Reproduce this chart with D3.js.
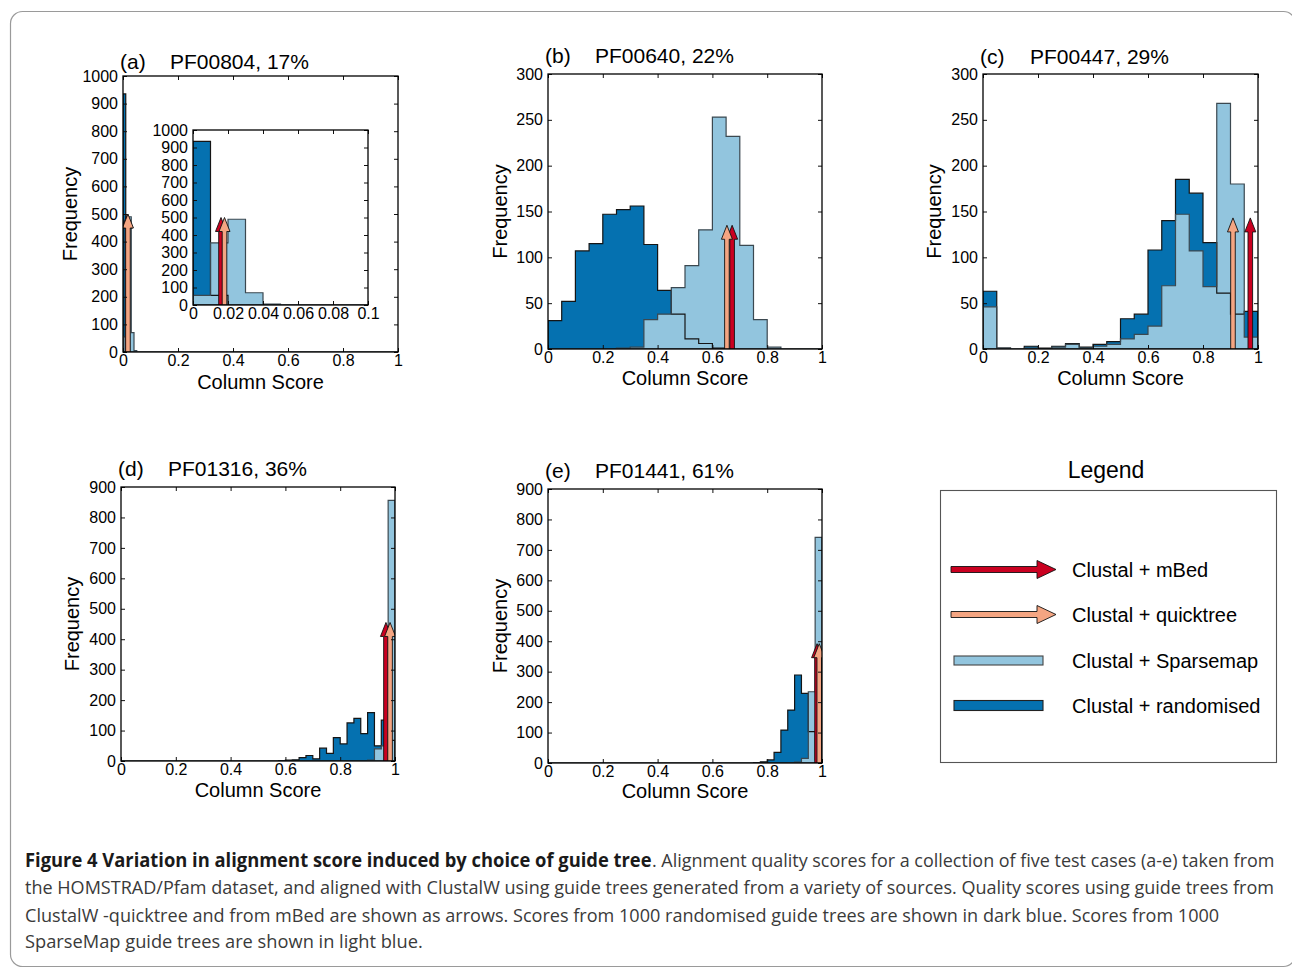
<!DOCTYPE html>
<html lang="en">
<head>
<meta charset="utf-8">
<title>Figure 4</title>
<script src="https://d3js.org/d3.v7.min.js"></script>
<style>
  body { margin: 0; background: #fff; }
  svg text { font-family: "Liberation Sans", Arial, Helvetica, sans-serif; }
  .caption text { font-family: "Open Sans", "Noto Sans", sans-serif; }
</style>
</head>
<body>
<script>
// ---------- data ----------
const panelIds = ["(a)", "(b)", "(c)", "(d)", "(e)"]
const panelNames = ["PF00804, 17%", "PF00640, 22%", "PF00447, 29%", "PF01316, 36%", "PF01441, 61%"]

const xTicks = [0, 0.2, 0.4, 0.6, 0.8, 1]
const xTickLabels = ["0", "0.2", "0.4", "0.6", "0.8", "1"]
const insetXTicks = [0, 0.02, 0.04, 0.06, 0.08, 0.1]
const insetXTickLabels = ["0", "0.02", "0.04", "0.06", "0.08", "0.1"]
const yTicks1000 = [0, 100, 200, 300, 400, 500, 600, 700, 800, 900, 1000]
const yTicks300 = [0, 50, 100, 150, 200, 250, 300]
const yTicks900 = [0, 100, 200, 300, 400, 500, 600, 700, 800, 900]

// histogram bin width per panel, first bin of each series, counts per bin
const binWidths = [0.01, 0.05, 0.05, 0.025, 0.025]
const randomStarts = [0, 0, 0, 0.575, 0.75]
const sparseStarts = [0, 0.25, 0, 0.9, 0.875]

const randomA = [935, 55]
const sparseA = [55, 355, 490, 70, 5]
const randomB = [31, 52, 107, 115, 147, 152, 156, 114, 64, 38, 11, 6, 1]
const sparseB = [1, 2, 32, 38, 67, 91, 130, 253, 232, 113, 32, 2]
const randomC = [63, 1, 0, 3, 1, 3, 6, 2, 5, 8, 33, 38, 108, 140, 185, 170, 116, 61, 38, 41]
const sparseC = [46, 1, 0, 1, 0, 2, 5, 1, 3, 5, 11, 16, 25, 69, 147, 107, 68, 268, 180, 13]
const randomD = [1, 3, 4, 11, 18, 7, 42, 25, 77, 56, 125, 140, 90, 159, 50, 134, 68]
const sparseD = [3, 40, 50, 856]
const randomE = [1, 4, 10, 35, 108, 174, 289, 229, 103, 10]
const sparseE = [1, 3, 15, 234, 741]

const randomCounts = [randomA, randomB, randomC, randomD, randomE]
const sparseCounts = [sparseA, sparseB, sparseC, sparseD, sparseE]

// single alignment scores (arrows) and the arrow tip height
const mbedScore = [0.016, 0.672, 0.972, 0.967, 0.982]
const quicktreeScore = [0.018, 0.653, 0.909, 0.982, 0.990]
const arrowTip = [500, 135, 143, 455, 392]

const legendLabels = ["Clustal + mBed", "Clustal + quicktree", "Clustal + Sparsemap", "Clustal + randomised"]

const captionBold = "Figure 4 Variation in alignment score induced by choice of guide tree"
const captionLines = [
  ". Alignment quality scores for a collection of five test cases (a-e) taken from",
  "the HOMSTRAD/Pfam dataset, and aligned with ClustalW using guide trees generated from a variety of sources. Quality scores using guide trees from",
  "ClustalW -quicktree and from mBed are shown as arrows. Scores from 1000 randomised guide trees are shown in dark blue. Scores from 1000",
  "SparseMap guide trees are shown in light blue."
]

// ---------- look ----------
const colors = { mbed: "#ca0020", quick: "#f4a582", sparse: "#92c5de", random: "#0571b0" }

const boxes = [
  { left: 123, top: 76, right: 398, bottom: 352, yTicks: yTicks1000, titleY: 69, freqX: 77, scoreY: 389 },
  { left: 548, top: 74, right: 822, bottom: 349, yTicks: yTicks300, titleY: 63, freqX: 507, scoreY: 385 },
  { left: 983, top: 74, right: 1258, bottom: 349, yTicks: yTicks300, titleY: 64, freqX: 941, scoreY: 385 },
  { left: 121, top: 487, right: 395, bottom: 761, yTicks: yTicks900, titleY: 476, freqX: 79, scoreY: 797 },
  { left: 548, top: 489, right: 822, bottom: 763, yTicks: yTicks900, titleY: 478, freqX: 507, scoreY: 798 }
]
const insetBox = { left: 193, top: 130, right: 368, bottom: 305 }

const svg = d3.select("body").append("svg")
  .attr("width", 1292)
  .attr("height", 968)

// outer rounded frame
svg.append("rect")
  .attr("x", 10.5).attr("y", 11.5)
  .attr("width", 1285).attr("height", 955)
  .attr("rx", 12)
  .attr("fill", "none")
  .attr("stroke", "#9a9a9a")
  .attr("stroke-width", 1.2)

function histPoints(start, width, counts, d0, d1) {
  const pts = [[d0, 0]]
  counts.forEach((c, i) => pts.push([start + i * width, c]))
  pts.push([start + counts.length * width, 0])
  pts.push([d1, 0])
  return pts
}

function arrowPoints(x0, y0, x1, y1, hw, hh, hl) {
  const dx = x1 - x0, dy = y1 - y0, L = Math.hypot(dx, dy)
  const ux = dx / L, uy = dy / L, px = -uy, py = ux
  const bx = x1 - ux * hl, by = y1 - uy * hl
  return [
    [x0 + px * hw, y0 + py * hw], [bx + px * hw, by + py * hw], [bx + px * hh, by + py * hh],
    [x1, y1],
    [bx - px * hh, by - py * hh], [bx - px * hw, by - py * hw], [x0 - px * hw, y0 - py * hw]
  ]
}

function drawArrow(g, pts, fill) {
  g.append("polygon")
    .attr("points", pts.map(p => p.join(",")).join(" "))
    .attr("fill", fill)
    .attr("stroke", "#111")
    .attr("stroke-width", 0.9)
    .attr("stroke-linejoin", "miter")
}

let clipCount = 0

function drawPlot(box, xDomain, xt, xl, i, withLabels) {
  const x = d3.scaleLinear().domain(xDomain).range([box.left, box.right])
  const y = d3.scaleLinear().domain([0, box.yTicks[box.yTicks.length - 1]]).range([box.bottom, box.top])
  const g = svg.append("g")

  const clipId = "clip" + (clipCount++)
  g.append("clipPath").attr("id", clipId)
    .append("rect")
    .attr("x", box.left).attr("y", box.top)
    .attr("width", box.right - box.left).attr("height", box.bottom - box.top)

  // white background (needed for the inset)
  g.append("rect")
    .attr("x", box.left).attr("y", box.top)
    .attr("width", box.right - box.left).attr("height", box.bottom - box.top)
    .attr("fill", "#fff")

  const area = d3.area()
    .curve(d3.curveStepAfter)
    .x(d => x(d[0]))
    .y0(y(0))
    .y1(d => y(d[1]))

  const plot = g.append("g").attr("clip-path", "url(#" + clipId + ")")
  const rnd = histPoints(randomStarts[i], binWidths[i], randomCounts[i], xDomain[0], xDomain[1])
  const spr = histPoints(sparseStarts[i], binWidths[i], sparseCounts[i], xDomain[0], xDomain[1])

  plot.append("path").attr("d", area(rnd)).attr("fill", colors.random).attr("stroke", "none")
  plot.append("path").attr("d", area(spr)).attr("fill", colors.sparse).attr("stroke", "none")
  plot.append("path").attr("d", area(rnd)).attr("fill", "none").attr("stroke", "#151515").attr("stroke-width", 1.2)
  plot.append("path").attr("d", area(spr)).attr("fill", "none").attr("stroke", "#3b4850").attr("stroke-width", 1.2)

  // arrows
  const base = y(0)
  drawArrow(plot, arrowPoints(x(mbedScore[i]), base, x(mbedScore[i]), y(arrowTip[i]), 2.3, 5.5, 14), colors.mbed)
  drawArrow(plot, arrowPoints(x(quicktreeScore[i]), base, x(quicktreeScore[i]), y(arrowTip[i]), 2.3, 5.5, 14), colors.quick)

  // axes with inward ticks on all four sides
  const fmtX = (d) => xl[xt.indexOf(d)]
  const axes = [
    g.append("g").attr("transform", `translate(0,${box.bottom})`)
      .call(d3.axisBottom(x).tickValues(xt).tickFormat(fmtX).tickSize(-4).tickPadding(3)),
    g.append("g").attr("transform", `translate(${box.left},0)`)
      .call(d3.axisLeft(y).tickValues(box.yTicks).tickFormat(d3.format("d")).tickSize(-4).tickPadding(5)),
    g.append("g").attr("transform", `translate(0,${box.top})`)
      .call(d3.axisTop(x).tickValues(xt).tickFormat("").tickSize(-4)),
    g.append("g").attr("transform", `translate(${box.right},0)`)
      .call(d3.axisRight(y).tickValues(box.yTicks).tickFormat("").tickSize(-4))
  ]
  axes.forEach(a => {
    a.attr("font-size", 16).attr("font-family", null)
    a.select(".domain").remove()
    a.selectAll("line").attr("stroke", "#111").attr("stroke-width", 1)
    a.selectAll("text").attr("fill", "#000")
  })

  g.append("rect")
    .attr("x", box.left).attr("y", box.top)
    .attr("width", box.right - box.left).attr("height", box.bottom - box.top)
    .attr("fill", "none")
    .attr("stroke", "#000")
    .attr("stroke-width", 1.3)

  if (withLabels) {
    g.append("text")
      .attr("x", box.left - 3).attr("y", box.titleY)
      .attr("font-size", 21)
      .text(panelIds[i])
    g.append("text")
      .attr("x", box.left + 47).attr("y", box.titleY)
      .attr("font-size", 21)
      .text(panelNames[i])
    g.append("text")
      .attr("transform", `translate(${box.freqX},${(box.top + box.bottom) / 2}) rotate(-90)`)
      .attr("text-anchor", "middle")
      .attr("font-size", 20)
      .text("Frequency")
    g.append("text")
      .attr("x", (box.left + box.right) / 2).attr("y", box.scoreY)
      .attr("text-anchor", "middle")
      .attr("font-size", 20)
      .text("Column Score")
  }
}

boxes.forEach((b, i) => drawPlot(b, [0, 1], xTicks, xTickLabels, i, true))
drawPlot(Object.assign({ yTicks: yTicks1000 }, insetBox), [0, 0.1], insetXTicks, insetXTickLabels, 0, false)

// ---------- legend ----------
const lg = svg.append("g")
lg.append("text")
  .attr("x", 1106).attr("y", 478)
  .attr("text-anchor", "middle")
  .attr("font-size", 23)
  .text("Legend")
lg.append("rect")
  .attr("x", 940.5).attr("y", 490.5)
  .attr("width", 336).attr("height", 272)
  .attr("fill", "none")
  .attr("stroke", "#555")
  .attr("stroke-width", 1.1)

const rowY = [569.5, 614.5, 660.5, 705.5]
drawArrow(lg, arrowPoints(951, rowY[0], 1056, rowY[0], 3, 9, 19), colors.mbed)
drawArrow(lg, arrowPoints(951, rowY[1], 1056, rowY[1], 3, 9, 19), colors.quick)
lg.append("rect").attr("x", 954).attr("y", rowY[2] - 4.5).attr("width", 89).attr("height", 9)
  .attr("fill", colors.sparse).attr("stroke", "#444").attr("stroke-width", 1.1)
lg.append("rect").attr("x", 954).attr("y", rowY[3] - 5).attr("width", 89).attr("height", 10)
  .attr("fill", colors.random).attr("stroke", "#222").attr("stroke-width", 1.1)

legendLabels.forEach((t, i) => {
  lg.append("text")
    .attr("x", 1072).attr("y", rowY[i] + 7.2)
    .attr("font-size", 20)
    .text(t)
})

// ---------- caption ----------
// each line is drawn at its natural size, then squeezed horizontally to the width it has in the figure
const cap = svg.append("g").attr("class", "caption")
const capBase = [866.7, 894, 921.5, 948]

function fitLine(text, x, y, width, bold) {
  const t = cap.append("text")
    .attr("font-size", 19)
    .attr("font-weight", bold ? "bold" : null)
    .attr("fill", bold ? "#1a1a1a" : "#3a3a3a")
    .text(text)
  const k = width / t.node().getComputedTextLength()
  t.attr("transform", `translate(${x},${y}) scale(${k},1)`)
}

fitLine(captionBold, 25, capBase[0], 627, true)
const capStarts = [652, 25, 25, 25]
const capWidths = [623, 1250, 1195, 398]
captionLines.forEach((t, i) => fitLine(t, capStarts[i], capBase[i], capWidths[i], false))
</script>
</body>
</html>
